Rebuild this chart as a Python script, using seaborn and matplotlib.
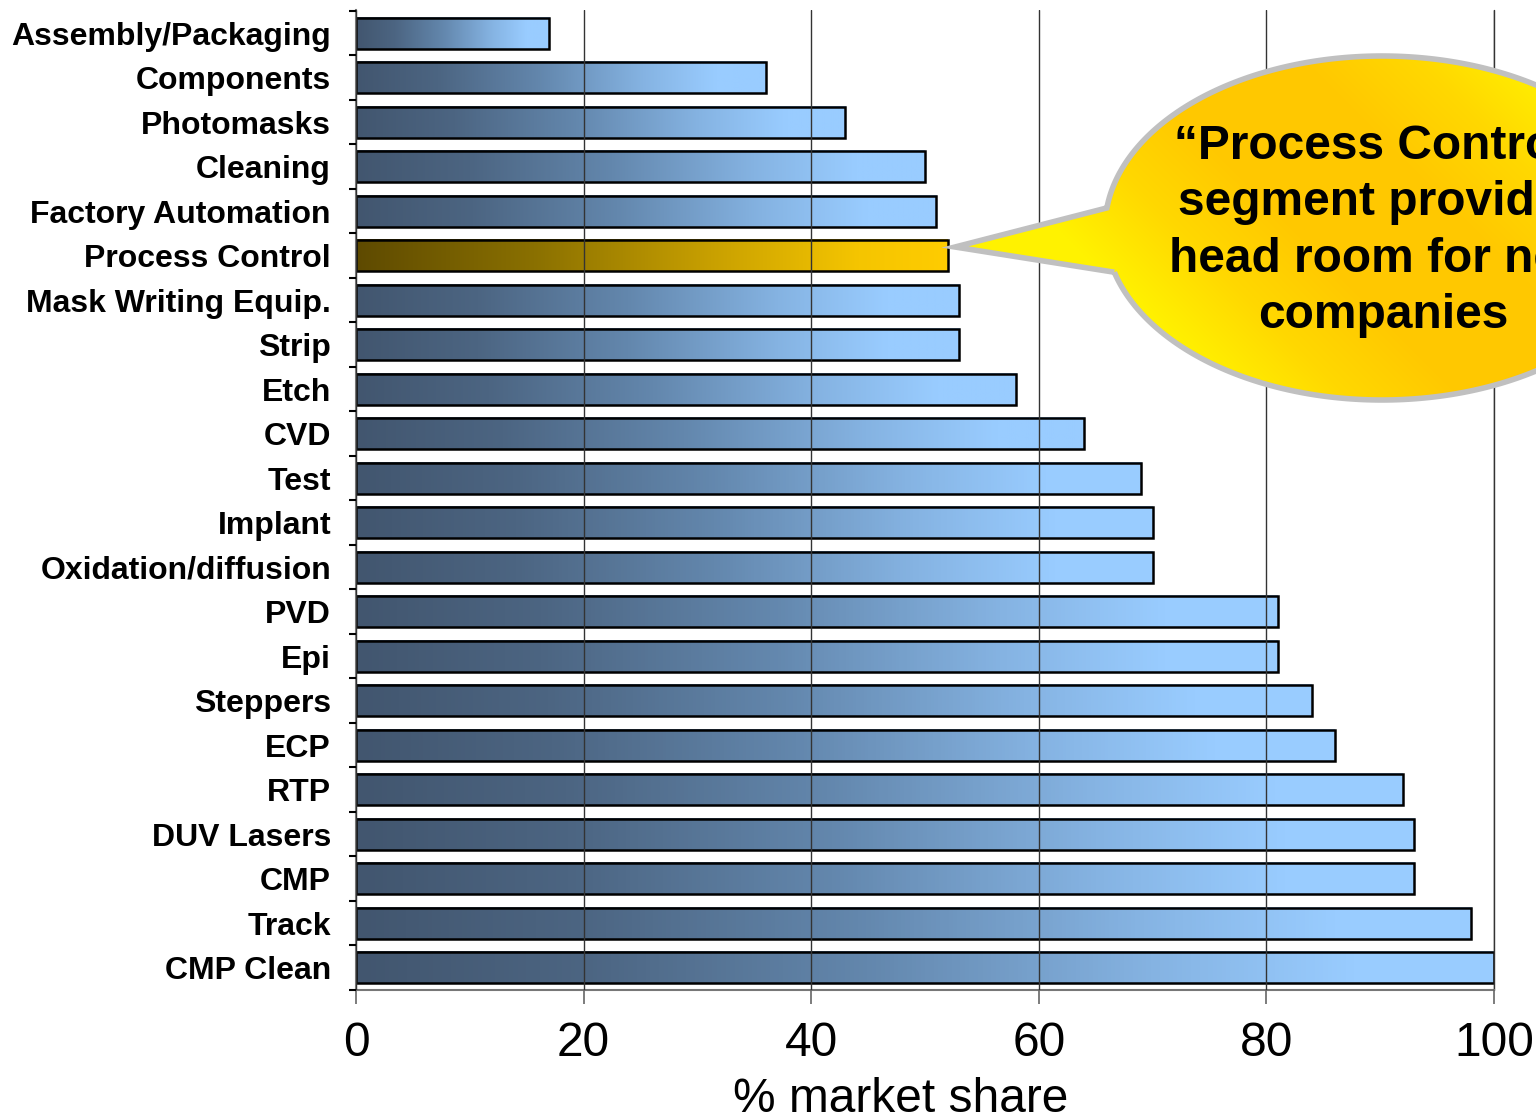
import numpy as np
import pandas as pd
import matplotlib
matplotlib.use("Agg")
import matplotlib.pyplot as plt
import seaborn as sns
from matplotlib.colors import LinearSegmentedColormap
from matplotlib.path import Path
from matplotlib.patches import PathPatch

categories = ["Assembly/Packaging", "Components", "Photomasks", "Cleaning",
              "Factory Automation", "Process Control", "Mask Writing Equip.",
              "Strip", "Etch", "CVD", "Test", "Implant", "Oxidation/diffusion",
              "PVD", "Epi", "Steppers", "ECP", "RTP", "DUV Lasers", "CMP",
              "Track", "CMP Clean"]
shares = [17, 36, 43, 50, 51, 52, 53, 53, 58, 64, 69, 70, 70,
          81, 81, 84, 86, 92, 93, 93, 98, 100]
highlight = "Process Control"
x_ticks = [0, 20, 40, 60, 80, 100]
x_label = "% market share"
callout_text = "\u201cProcess Control\u201d\nsegment provides\nhead room for new\ncompanies"

sns.set_theme(style="white")
plt.rcParams["font.family"] = ["Liberation Sans", "DejaVu Sans"]
plt.rcParams["text.color"] = "black"
plt.rcParams["axes.labelcolor"] = "black"
plt.rcParams["xtick.color"] = "black"
plt.rcParams["ytick.color"] = "black"

W, H = 1536, 1120
fig = plt.figure(figsize=(W / 100, H / 100), dpi=100)
ax = fig.add_axes([356 / W, (H - 990) / H, (1494 - 356) / W, 980 / H])

df = pd.DataFrame({"category": categories, "share": shares})
sns.barplot(data=df, x="share", y="category", orient="h", width=0.7,
            color="#99ccff", ax=ax, edgecolor="black", linewidth=1.8)

blue_cmap = LinearSegmentedColormap.from_list(
    "blue", [(0, "#42566f"), (0.2, "#4c6582"), (0.45, "#6387ad"),
             (0.7, "#85b3e2"), (0.88, "#99ccff"), (1, "#99ccff")])
gold_cmap = LinearSegmentedColormap.from_list(
    "gold", [(0, "#5e4a00"), (0.3, "#8a7000"), (0.6, "#c8a000"),
             (0.85, "#f5c500"), (1, "#ffcc00")])

grad = np.linspace(0, 1, 256).reshape(1, -1)
for patch, cat in zip(ax.patches, categories):
    x0, y0 = patch.get_x(), patch.get_y()
    w, h = patch.get_width(), patch.get_height()
    cmap = gold_cmap if cat == highlight else blue_cmap
    ax.imshow(grad, cmap=cmap, aspect="auto", extent=(x0, x0 + w, y0 + h, y0),
              zorder=1.1, interpolation="bilinear")
    patch.set_facecolor("none")
    patch.set_zorder(1.6)

ax.set_xlim(0, 100)
ax.set_ylim(21.43, -0.52)
ax.set_xticks(x_ticks)
ax.set_xticklabels([str(t) for t in x_ticks], fontsize=34.5, color="black")
ax.set_xlabel(x_label, fontsize=34.5, color="black")
ax.xaxis.set_label_coords((901 - 356) / (1494 - 356), -0.089)
ax.set_ylabel("")
ax.set_yticks(range(len(categories)))
ax.set_yticklabels(categories, fontsize=23, fontweight="bold", color="black")
ax.set_yticks(np.arange(-0.5, len(categories), 1.0), minor=True)
ax.tick_params(axis="y", which="major", length=0, pad=18)
ax.tick_params(axis="y", which="minor", length=5, width=1.5, color="black", left=True)
ax.tick_params(axis="x", which="major", length=10, width=1.2, color="#666666",
               bottom=True, pad=12, labelcolor="black")

for s in ["top", "right"]:
    ax.spines[s].set_visible(False)
for s in ["left", "bottom"]:
    ax.spines[s].set_color("#777777")
    ax.spines[s].set_linewidth(1.5)

ax.set_axisbelow(False)
ax.xaxis.grid(True, color="#333333", linewidth=1.0, zorder=2.5)
ax.yaxis.grid(False)
ax.axvline(100, color="#333333", linewidth=1.0, zorder=2.5, clip_on=False)

# callout overlay
ov = fig.add_axes([0, 0, 1, 1], zorder=5)
ov.set_xlim(0, W)
ov.set_ylim(0, H)
ov.axis("off")
ov.patch.set_alpha(0)

cx, cy = 1382, H - 228
a, b = 277, 172
t1, t2 = np.pi + 0.26, np.pi - 0.117 + 2 * np.pi
th = np.linspace(t1, t2, 400)
pts = np.column_stack([cx + a * np.cos(th), cy + b * np.sin(th)])
tip = np.array([[955, H - 247]])
verts = np.vstack([pts, tip, pts[:1]])
codes = [Path.MOVETO] + [Path.LINETO] * (len(verts) - 2) + [Path.CLOSEPOLY]
bubble = PathPatch(Path(verts, codes), facecolor="none", edgecolor="#c0c0c0",
                   linewidth=4, zorder=3)
ov.add_patch(bubble)

ex0, ex1, ey0, ey1 = 940, 1680, H - 420, H - 40
gx = np.linspace(ex0, ex1, 370)
gy = np.linspace(ey0, ey1, 190)
GX, GY = np.meshgrid(gx, gy)
proj = np.abs((GX - cx) + (GY - cy)) / np.sqrt(2)
val = np.clip((proj - 60) / 170.0, 0, 1)
gold2 = LinearSegmentedColormap.from_list("g2", ["#ffc800", "#ffd800", "#fff200"])
im = ov.imshow(val, cmap=gold2, aspect="auto", extent=(ex0, ex1, ey0, ey1),
               origin="lower", zorder=2, interpolation="bilinear")
im.set_clip_path(bubble)

ov.text(1383, H - 231, callout_text, ha="center", va="center", fontsize=34.5,
        fontweight="bold", color="black", linespacing=1.32, zorder=4)

fig.savefig("out.png", dpi=100)
